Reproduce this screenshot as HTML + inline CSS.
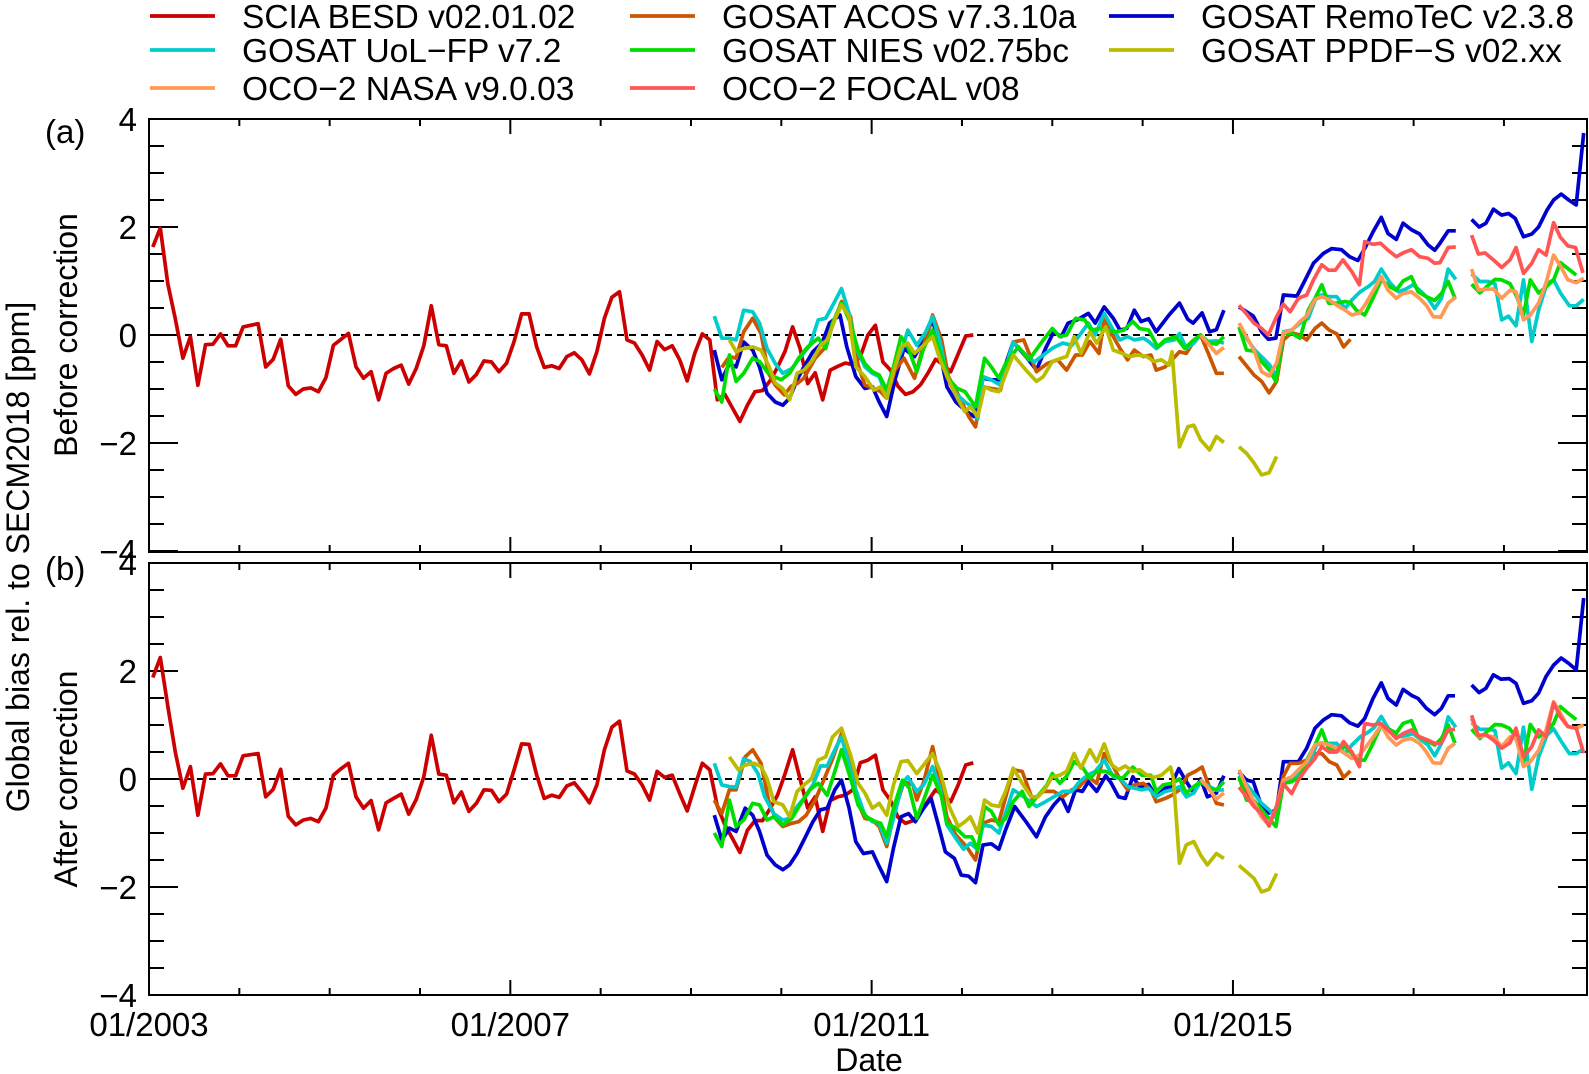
<!DOCTYPE html>
<html><head><meta charset="utf-8">
<style>
html,body{margin:0;padding:0;background:#fff;}
svg{display:block;font-family:"Liberation Sans",Arial,sans-serif;}
</style></head>
<body>
<svg id="chart" width="1589" height="1074" viewBox="0 0 1589 1074" xmlns="http://www.w3.org/2000/svg">
<g id="legend" font-size="33.5" fill="#000"></g>
<g id="axes"></g>
<g id="series"></g>
<text x="45" y="143" font-size="33">(a)</text>
<text x="45" y="580" font-size="33">(b)</text>
<text transform="translate(29,557) rotate(-90)" text-anchor="middle" font-size="32">Global bias rel. to SECM2018 [ppm]</text>
<text transform="translate(77,335) rotate(-90)" text-anchor="middle" font-size="32">Before correction</text>
<text transform="translate(77,779) rotate(-90)" text-anchor="middle" font-size="32">After correction</text>
<text x="869" y="1071" text-anchor="middle" font-size="32">Date</text>
</svg>
<script>
// ---- data (x = months since 01/2003, y = ppm) ----
const xTickLabels=["01/2003","01/2007","01/2011","01/2015"];
const xTickYears=[2003,2007,2011,2015];
const yTickLabels=["−4","−2","0","2","4"];
const yTickValues=[-4,-2,0,2,4];
const legendNames=["SCIA BESD v02.01.02","GOSAT UoL−FP v7.2","OCO−2 NASA v9.0.03","GOSAT ACOS v7.3.10a","GOSAT NIES v02.75bc","OCO−2 FOCAL v08","GOSAT RemoTeC v2.3.8","GOSAT PPDF−S v02.xx"];
const legendColors=["#cc0000","#00cccc","#ff9955","#cc5500","#00dd00","#ff5555","#0000cc","#bbbb00"];

const sciaA=[1.63,1.98,0.95,0.3,-0.43,-0.03,-0.93,-0.18,-0.17,0.02,-0.2,-0.2,0.15,0.18,0.21,-0.59,-0.45,-0.08,-0.94,-1.1,-1.0,-0.98,-1.05,-0.79,-0.19,-0.08,0.03,-0.59,-0.8,-0.68,-1.2,-0.71,-0.62,-0.56,-0.91,-0.62,-0.2,0.54,-0.18,-0.2,-0.71,-0.48,-0.87,-0.73,-0.48,-0.5,-0.68,-0.52,-0.12,0.39,0.39,-0.22,-0.6,-0.57,-0.62,-0.4,-0.33,-0.46,-0.72,-0.31,0.31,0.7,0.8,-0.09,-0.15,-0.37,-0.65,-0.12,-0.27,-0.2,-0.46,-0.85,-0.34,0.02,-0.09,-1.2,-1.1,-1.35,-1.6,-1.3,-1.05,-1.03,-0.85,-0.6,-0.3,0.15,-0.25,-0.9,-0.7,-1.2,-0.65,-0.58,-0.52,-0.55,-0.4,0.0,0.18,-0.5,-0.65,-0.95,-1.1,-1.05,-0.92,-0.7,-0.45,-0.55,-0.68,-0.35,-0.02,0.0];
const sciaB=[1.88,2.25,1.35,0.5,-0.17,0.23,-0.67,0.09,0.1,0.28,0.06,0.06,0.43,0.45,0.47,-0.33,-0.19,0.18,-0.69,-0.85,-0.76,-0.73,-0.79,-0.54,0.07,0.19,0.29,-0.33,-0.54,-0.4,-0.94,-0.44,-0.36,-0.28,-0.65,-0.38,0.04,0.81,0.09,0.07,-0.44,-0.24,-0.6,-0.45,-0.2,-0.21,-0.42,-0.28,0.17,0.65,0.64,0.07,-0.36,-0.3,-0.34,-0.13,-0.07,-0.24,-0.44,-0.11,0.54,0.96,1.07,0.15,0.09,-0.11,-0.39,0.14,0.03,0.07,-0.27,-0.59,-0.14,0.29,0.17,-0.5,-0.85,-1.1,-1.36,-0.95,-0.77,-0.77,-0.55,-0.3,0.1,0.54,0.0,-0.54,-0.33,-0.97,-0.4,-0.33,-0.3,-0.2,0.3,0.35,0.44,-0.2,-0.4,-0.71,-0.82,-0.77,-0.62,-0.4,-0.2,-0.3,-0.42,-0.11,0.26,0.3];

const remotecA=[[74.6,-0.28],[75.6,-0.83],[76.6,-0.53],[77.5,-0.59],[78.5,-0.13],[79.7,-0.28],[80.6,-0.59],[81.6,-1.08],[82.7,-1.24],[83.7,-1.3],[84.6,-1.17],[85.6,-0.83],[86.5,-0.59],[87.7,-0.31],[88.9,-0.15],[89.9,0.22],[91.3,0.37],[92.2,-0.22],[93.4,-0.77],[94.6,-0.99],[95.6,-0.96],[96.5,-1.24],[97.5,-1.51],[98.6,-0.83],[99.8,-0.25],[101.2,-0.4],[102.5,-0.09],[103.6,0.3],[104.6,-0.34],[105.5,-0.96],[106.7,-1.24],[107.9,-1.39],[109.1,-1.51],[110.3,-0.8],[111.4,-0.83],[112.6,-0.83],[114.3,-0.13],[116,-0.4],[117.4,-0.65],[118.6,-0.25],[119.7,0.06],[120.7,-0.03],[121.6,0.22],[122.8,0.28],[124.3,0.4],[125.2,0.22],[126.4,0.52],[127.6,0.31],[128.5,0.09],[129.4,0.12],[130.4,0.46],[131.3,0.25],[132.3,0.3],[133.3,0.06],[135,0.37],[136.4,0.59],[137.5,0.29],[138.2,0.22],[139.4,0.41],[140.4,0.06],[141.3,0.1],[142.3,0.46],null,[144.3,0.52],[146.2,0.35],[147.3,0.06],[148.2,-0.08],[149.2,-0.06],[150.2,0.74],[152,0.72],[153.1,1.02],[154.2,1.33],[155.5,1.51],[156.6,1.6],[157.9,1.58],[159,1.45],[160.1,1.38],[161,1.6],[162.1,1.91],[163.2,2.18],[164.1,1.88],[165.2,1.77],[166.1,2.07],[167.2,1.95],[168.3,1.87],[169.4,1.67],[170.3,1.57],[171,1.7],[172.1,1.93],[173.1,1.93],null,[175.2,2.14],[176.2,2.0],[177.1,2.07],[178.1,2.33],[179.2,2.22],[180.1,2.25],[181,2.16],[182.1,1.82],[183.2,1.87],[184.1,2.0],[185.2,2.31],[186.1,2.5],[187.1,2.61],[188.1,2.5],[189.1,2.41],[190.1,3.74]];
const acosA=[[75.6,-0.6],[76.6,-0.4],[77.5,-0.43],[78.5,0.06],[79.7,0.31],[80.8,0.03],[81.8,-0.71],[82.7,-0.93],[83.9,-1.11],[84.8,-0.95],[85.6,-0.9],[86.5,-0.8],[88,-0.43],[89.4,-0.22],[90.3,0.18],[91.5,0.62],[92.7,0.34],[93.7,-0.56],[94.6,-0.93],[95.8,-0.99],[96.7,-1.05],[97.5,-1.17],[98.6,-0.65],[99.8,-0.43],[101.2,-0.8],[102.4,-0.19],[103.6,0.37],[104.8,-0.09],[105.7,-0.77],[106.9,-1.08],[108.4,-1.51],[109.3,-1.7],[110.3,-0.96],[111.4,-0.99],[112.6,-1.02],[114.3,-0.13],[115.7,-0.09],[117.4,-0.68],[118.8,-0.53],[120.2,-0.46],[121.4,-0.65],[122.6,-0.37],[123.5,-0.37],[124.5,-0.12],[125.7,-0.34],[126.4,0.28],[127.6,-0.03],[128.5,-0.25],[129.5,-0.46],[130.4,-0.28],[131.6,-0.4],[132.6,-0.37],[133.3,-0.65],[134.5,-0.59],[135.4,-0.46],[136.4,-0.31],[137.3,-0.34],[138.3,-0.12],[139.2,0.0],[140.4,-0.4],[141.3,-0.71],[142.3,-0.71],null,[144.3,-0.4],[145.3,-0.57],[146.3,-0.74],[147.3,-0.86],[148.3,-1.07],[149.3,-0.86],[150.2,-0.09],[151.3,0.04],[152.4,0.0],[153.3,-0.09],[154.4,0.12],[155.3,0.22],[156.3,0.09],[157.3,0.02],[158.2,-0.22],[159.1,-0.08]];
const uolA=[[74.6,0.35],[75.6,-0.06],[76.6,-0.06],[77.5,-0.09],[78.5,0.46],[79.7,0.43],[80.6,0.22],[81.6,-0.25],[82.7,-0.53],[83.7,-0.71],[84.9,-0.62],[86.1,-0.4],[87.3,-0.19],[88.4,0.28],[89.4,0.31],[90.6,0.62],[91.5,0.86],[92.5,0.4],[93.4,-0.22],[94.6,-0.59],[95.6,-0.71],[96.5,-0.77],[97.5,-1.14],[98.4,-0.65],[99.6,-0.25],[100.3,0.09],[101.5,-0.19],[102.7,0.06],[103.6,0.34],[104.6,-0.13],[105.5,-0.77],[106.7,-1.08],[107.9,-1.24],[108.8,-1.33],[109.6,-1.55],[110.3,-0.77],[111.4,-0.83],[112.6,-0.93],[114.3,-0.13],[116,-0.37],[117.1,-0.5],[118.6,-0.34],[119.7,-0.23],[120.9,-0.15],[122.1,-0.19],[123.3,0.03],[124.3,0.22],[125.2,0.0],[126.4,0.4],[127.6,0.09],[128.5,-0.09],[129.5,-0.03],[130.4,-0.09],[131.6,-0.06],[132.3,-0.12],[133.3,-0.25],[134.5,-0.12],[135.7,-0.09],[136.4,0.03],[137.3,-0.25],[138.3,-0.15],[139.2,0.0],[140.1,-0.12],[141.3,-0.11],[142.3,-0.15],null,[144.3,0.15],[145.3,-0.06],[146.4,-0.28],[147.5,-0.43],[148.4,-0.56],[149.3,-0.77],[150.2,0.06],[151.3,0.09],[152.4,0.22],[153.5,0.31],[154.6,0.71],[155.3,0.74],[156.3,0.71],[157.3,0.71],[158.4,0.49],[159.3,0.65],[160.4,0.8],[161.5,0.9],[162.3,0.99],[163.2,1.22],[164.4,0.96],[165.5,0.8],[166.6,0.86],[167.4,0.93],[168.3,0.83],[169.4,0.68],[170.3,0.49],[171.2,0.68],[172.1,1.22],[173.1,1.03],null,[175.2,1.13],[176.3,0.99],[177.4,0.99],[178.3,0.95],[179.2,0.28],[180.1,0.35],[181.1,0.17],[182.1,1.02],[183.2,-0.12],[184.1,0.46],[185.2,0.95],[186.1,1.02],[187,0.78],[188.2,0.54],[189.1,0.54],[190.1,0.66]];
const niesA=[[74.6,-1.0],[75.6,-1.24],[76.6,-0.37],[77.5,-0.86],[78.5,-0.71],[79.7,-0.43],[80.6,-0.49],[81.6,-0.68],[82.5,-0.77],[83.5,-0.83],[84.6,-0.71],[85.8,-0.43],[87,-0.22],[88.4,-0.06],[89.4,-0.25],[90.3,0.22],[91.5,0.59],[92.7,0.22],[93.7,-0.28],[94.6,-0.53],[95.6,-0.68],[96.5,-0.74],[97.5,-1.02],[98.4,-0.59],[99.4,-0.03],[100.3,-0.22],[101.5,-0.68],[102.4,-0.25],[103.6,0.09],[104.8,-0.4],[105.8,-0.83],[106.9,-0.99],[107.9,-1.05],[109.3,-1.33],[110.5,-0.43],[111.4,-0.59],[112.4,-0.8],[113.3,-0.53],[115,-0.22],[116.4,-0.46],[118.1,-0.13],[119.5,0.12],[120.5,-0.03],[121.4,0.0],[122.6,0.31],[123.8,0.28],[124.7,0.09],[125.9,0.12],[126.8,0.09],[128,0.06],[129,0.09],[130.2,0.25],[131.1,0.12],[132.3,0.09],[133.5,-0.22],[134.5,-0.09],[135.9,-0.03],[137.1,-0.25],[138.3,-0.09],[139.2,0.0],[140.4,-0.15],[141.3,-0.17],[142.3,-0.03],null,[144.3,0.15],[145.3,-0.28],[146.3,-0.3],[147.3,-0.49],[148.4,-0.66],[149.2,-0.86],[150.2,0.04],[151.3,0.03],[152.4,-0.06],[153.5,0.46],[154.4,0.68],[155.3,0.93],[156.2,0.59],[157.3,0.59],[158.4,0.62],[159.1,0.6],[159.9,0.46],[161,0.37],[162.1,0.68],[163.2,1.02],[164.4,0.89],[165.2,0.83],[166.1,1.0],[167.2,1.08],[168.1,0.8],[169.2,0.71],[170.3,0.64],[171.2,0.77],[172.1,0.99],[173,0.68],null,[175.2,0.94],[176.3,0.78],[177.2,0.89],[178.3,1.03],[179.2,1.02],[180.3,0.95],[181.2,0.71],[182.1,0.37],[183,1.02],[184.1,0.78],[185.1,0.89],[186.1,1.02],[187,1.34],[188,1.23],[189.1,1.11]];
const ppdfA=[[76.6,-0.09],[77.5,-0.31],[78.5,-0.25],[79.7,-0.22],[80.8,-0.28],[81.8,-0.56],[82.7,-0.89],[83.7,-0.99],[84.6,-1.2],[85.6,-0.71],[86.5,-0.65],[87.7,-0.46],[88.7,-0.19],[89.6,-0.09],[90.6,0.28],[91.5,0.56],[92.5,0.34],[93.4,-0.59],[94.6,-0.77],[95.8,-1.02],[96.7,-0.96],[97.5,-1.17],[98.4,-0.68],[99.4,-0.22],[100.3,-0.15],[101.2,-0.34],[102.4,-0.19],[103.6,-0.03],[104.6,-0.46],[105.8,-0.86],[107,-1.2],[107.9,-1.42],[108.6,-1.33],[109.6,-1.51],[110.5,-0.96],[111.4,-1.02],[112.4,-1.05],[114.3,-0.37],[116,-0.65],[117.4,-0.86],[118.3,-0.77],[119.5,-0.49],[120.7,-0.43],[121.4,-0.4],[122.4,-0.03],[123.3,-0.34],[124.5,0.06],[125.4,-0.15],[126.6,0.15],[127.6,-0.28],[128.8,-0.34],[129.7,-0.4],[130.9,-0.37],[132.1,-0.4],[133,-0.49],[134,-0.46],[135,-0.56],[135.4,-0.31],[136.4,-2.07],[137.5,-1.7],[138.3,-1.67],[139.2,-1.94],[140.4,-2.13],[141.3,-1.88],[142.3,-1.99],null,[144.3,-2.07],[145.3,-2.19],[146.3,-2.37],[147.3,-2.59],[148.3,-2.55],[149.3,-2.25]];
const nasaA=[[139.2,0.0],[140.4,-0.19],[141.3,-0.34],[142.3,-0.23],null,[144.3,0.22],[145.3,-0.03],[146.3,-0.28],[147.3,-0.68],[148.3,-0.76],[149.3,-0.52],[150.2,0.04],[151.3,0.09],[152.4,0.25],[153.3,0.35],[154.4,0.66],[155.3,0.71],[156.3,0.65],[157.3,0.55],[158.4,0.46],[159.3,0.37],[160.3,0.41],[161.2,0.59],[162.3,0.86],[163.2,1.08],[164.1,0.83],[165.2,0.68],[166.1,0.77],[167.2,0.8],[168.3,0.68],[169.2,0.55],[170.1,0.34],[171.1,0.33],[172.1,0.59],[173.1,0.7],null,[175.2,1.22],[176.1,0.83],[177.1,0.85],[178.1,0.85],[179.2,0.68],[180.3,0.83],[181.1,0.8],[182.1,0.28],[183,0.37],[184.1,0.59],[185.1,0.97],[186.1,1.48],[187,1.28],[188,1.02],[189.1,0.97],[190.1,1.05]];
const focalA=[[144.3,0.55],[145.3,0.39],[146.3,0.22],[147.3,0.12],[148.2,0.0],[149.3,0.34],[150.2,0.57],[151.1,0.43],[152.2,0.68],[153.3,0.74],[154.2,1.02],[155.3,1.3],[156.2,1.2],[157.1,1.2],[158.1,1.39],[159.3,1.17],[160.3,0.93],[161,1.73],[162.1,1.68],[163.1,1.7],[164.1,1.57],[165.2,1.45],[166.1,1.52],[167.2,1.58],[168.3,1.45],[169.4,1.42],[170.3,1.33],[171,1.34],[172.1,1.62],[173.1,1.63],null,[175.2,1.85],[176.1,1.5],[177,1.52],[178.1,1.39],[179.2,1.25],[180.3,1.39],[181.1,1.62],[182.1,1.14],[183.2,1.33],[184.1,1.58],[185.1,1.48],[186.1,2.08],[187,1.81],[188,1.65],[189,1.62],[190,1.15]];

const remotecB=[[74.6,-0.67],[75.6,-1.13],[76.6,-0.91],[77.5,-0.97],[78.7,-0.54],[79.7,-0.67],[80.6,-0.97],[81.6,-1.41],[82.7,-1.59],[83.7,-1.68],[84.6,-1.59],[85.6,-1.38],[86.5,-1.13],[87.7,-0.79],[88.7,-0.57],[89.6,-0.54],[90.6,-0.2],[91.5,-0.02],[92.5,-0.54],[93.4,-1.16],[94.4,-1.38],[95.6,-1.35],[96.5,-1.62],[97.5,-1.9],[98.4,-1.28],[99.4,-0.7],[100.4,-0.64],[101.3,-0.79],[102.4,-0.54],[103.4,-0.36],[104.3,-0.82],[105.3,-1.35],[106.5,-1.47],[107.4,-1.78],[108.4,-1.8],[109.3,-1.92],[110.3,-1.22],[111.4,-1.2],[112.4,-1.3],[113.3,-0.94],[114.5,-0.51],[116,-0.79],[117.4,-1.07],[118.6,-0.7],[119.7,-0.48],[120.7,-0.33],[121.6,-0.6],[122.6,-0.2],[123.5,-0.23],[124.3,-0.05],[125.4,-0.23],[126.6,0.06],[127.3,-0.07],[128.3,-0.33],[129.2,-0.36],[130.2,0.04],[131.1,-0.14],[132.3,-0.1],[133.3,-0.33],[134.5,-0.17],[135.2,-0.14],[136.3,0.19],[137.3,-0.05],[138.3,-0.26],[139.2,0.0],[140.1,-0.33],[141.3,-0.26],[142.3,0.06],null,[144.3,0.13],[145.3,-0.02],[146.2,-0.05],[147.3,-0.51],[148.3,-0.63],[149.3,-0.57],[150.2,0.32],[151.1,0.32],[152.2,0.32],[153.3,0.57],[154.4,0.94],[155.5,1.09],[156.6,1.19],[157.9,1.17],[159,1.04],[160.1,0.98],[161,1.12],[162.1,1.49],[163.2,1.78],[164.1,1.49],[165.2,1.37],[166.1,1.66],[167.2,1.55],[168.1,1.49],[169.2,1.31],[170.3,1.19],[171.2,1.31],[172.1,1.54],[173,1.54],null,[175.2,1.74],[176.2,1.6],[177.1,1.68],[178.1,1.93],[179.1,1.85],[180.2,1.86],[181.1,1.77],[182.1,1.4],[183.2,1.45],[184.1,1.59],[185.1,1.9],[186.1,2.11],[187.1,2.24],[188.1,2.14],[189.1,2.02],[190.1,3.35]];
const acosB=[[74.6,-0.39],[75.6,-0.64],[76.6,-0.2],[77.5,-0.2],[78.7,0.41],[79.7,0.54],[80.8,0.29],[81.8,-0.39],[82.7,-0.73],[83.7,-0.88],[84.9,-0.82],[85.8,-0.79],[86.8,-0.67],[88,-0.39],[89.2,0.0],[90.3,0.37],[91.5,0.84],[92.7,0.29],[93.7,-0.45],[94.6,-0.73],[95.6,-0.76],[96.5,-0.88],[97.5,-1.25],[98.6,-0.57],[99.8,-0.05],[101,-0.11],[101.5,-0.39],[102.4,-0.06],[103.6,0.6],[104.6,-0.05],[105.5,-0.7],[106.7,-1.04],[108.1,-1.25],[109.3,-1.5],[110.3,-0.82],[111.4,-0.76],[112.4,-0.79],[114.3,0.17],[115.5,0.14],[116.9,-0.39],[118.3,-0.23],[119.7,-0.23],[120.9,-0.33],[122.1,-0.2],[123.1,-0.14],[124.3,0.04],[125.4,-0.08],[126.4,0.47],[127.6,0.23],[128.5,0.0],[129.5,-0.2],[130.4,-0.11],[131.6,-0.08],[132.6,-0.2],[133.3,-0.42],[134.5,-0.36],[135.4,-0.3],[136.4,-0.2],[137.5,0.07],[138.5,0.14],[139.4,0.22],[140.1,-0.05],[141.3,-0.45],[142.3,-0.48],null,[144.3,0.0],[145.3,-0.2],[146.3,-0.45],[147.3,-0.7],[148.3,-0.85],[149.3,-0.5],[150.2,0.05],[151.1,0.29],[152.2,0.29],[153.3,0.35],[154.4,0.47],[155.3,0.47],[156.3,0.32],[157.3,0.26],[158.2,0.03],[159.1,0.15]];
const uolB=[[74.6,0.29],[75.6,-0.11],[76.6,-0.14],[77.5,-0.15],[78.5,0.38],[79.4,0.32],[80.4,0.1],[81.3,-0.33],[82.5,-0.64],[83.7,-0.76],[84.6,-0.73],[85.6,-0.51],[86.5,-0.36],[87.7,-0.11],[88.7,0.24],[89.6,0.24],[90.6,0.54],[91.5,0.78],[92.5,0.26],[93.4,-0.2],[94.6,-0.67],[95.6,-0.79],[96.5,-0.82],[97.5,-1.19],[98.4,-0.73],[99.6,-0.08],[100.3,0.04],[101.5,-0.23],[102.4,-0.11],[103.6,0.23],[104.6,-0.17],[105.5,-0.85],[106.7,-1.1],[107.7,-1.3],[108.6,-1.19],[109.6,-1.31],[110.3,-0.85],[111.4,-0.88],[112.4,-1.0],[114.3,-0.2],[115.7,-0.33],[117.4,-0.51],[118.6,-0.42],[119.7,-0.33],[120.9,-0.23],[122.1,-0.23],[123.1,-0.05],[124.3,0.08],[125.2,0.14],[126.4,0.35],[127.6,0.04],[128.5,0.01],[129.5,-0.14],[130.4,-0.17],[131.4,-0.2],[132.3,-0.17],[133.3,-0.33],[134.5,-0.23],[135.7,-0.19],[136.4,-0.14],[137.3,-0.33],[138.3,-0.26],[139.2,-0.05],[140.4,-0.14],[141.3,-0.21],[142.3,-0.2],null,[144.3,0.07],[145.3,-0.1],[146.3,-0.27],[147.3,-0.45],[148.3,-0.57],[149.3,-0.73],[150.2,-0.08],[151.3,-0.02],[152.4,0.1],[153.5,0.26],[154.6,0.63],[155.3,0.66],[156.3,0.66],[157.3,0.66],[158.4,0.47],[159.3,0.63],[160.4,0.78],[161.5,0.87],[162.3,0.96],[163.2,1.16],[164.4,0.87],[165.5,0.78],[166.6,0.81],[167.4,0.84],[168.3,0.75],[169.4,0.63],[170.3,0.43],[171.2,0.66],[172.1,1.15],[173.1,0.96],null,[175.2,1.04],[176.3,0.92],[177.4,0.92],[178.3,0.9],[179.2,0.2],[180.1,0.3],[181.1,0.1],[182.1,0.96],[183.2,-0.19],[184.1,0.41],[185.2,0.81],[186.1,0.93],[187,0.72],[188.2,0.47],[189.1,0.47],[190.1,0.56]];
const niesB=[[74.6,-1.0],[75.6,-1.25],[76.6,-0.39],[77.5,-0.88],[78.5,-0.76],[79.7,-0.45],[80.6,-0.48],[81.6,-0.76],[82.5,-0.7],[83.7,-0.85],[84.9,-0.73],[86.1,-0.45],[87.3,-0.2],[88.4,-0.08],[89.6,-0.3],[90.6,0.14],[91.5,0.54],[92.7,0.01],[93.7,-0.48],[94.8,-0.7],[96,-0.79],[96.7,-0.82],[97.5,-1.07],[98.4,-0.54],[99.6,-0.02],[100.5,-0.17],[101.5,-0.73],[102.4,-0.39],[103.6,0.07],[104.8,-0.33],[105.5,-0.82],[106.7,-0.91],[107.9,-1.07],[108.8,-1.07],[109.6,-1.31],[110.5,-0.51],[111.4,-0.6],[112.4,-0.85],[113.3,-0.73],[114.3,-0.42],[115.5,-0.23],[116.4,-0.51],[117.9,-0.26],[118.8,-0.11],[119.5,0.1],[120.5,-0.08],[121.4,0.05],[122.4,0.32],[123.5,0.22],[124.5,0.01],[125.4,0.14],[126.6,0.14],[127.6,0.07],[128.8,0.01],[130.2,0.22],[131.4,0.07],[132.6,0.07],[133.3,-0.23],[134.2,-0.11],[135.4,-0.08],[136.4,0.0],[137.3,-0.26],[138.3,-0.14],[139.2,-0.05],[140.4,-0.17],[141.3,-0.2],[142.3,-0.05],null,[144.3,0.04],[145.3,-0.39],[146.3,-0.4],[147.3,-0.57],[148.3,-0.73],[149.2,-0.88],[150.2,-0.08],[151.3,-0.05],[152.4,0.04],[153.5,0.41],[154.4,0.63],[155.3,0.91],[156.2,0.57],[157.3,0.55],[158.4,0.6],[159.3,0.47],[160.1,0.35],[161,0.35],[162.1,0.66],[163.2,1.0],[164.4,0.91],[165.2,0.85],[166.1,1.03],[167.2,1.08],[168.1,0.78],[169.2,0.72],[170.3,0.63],[171.2,0.75],[172.1,1.0],[173,0.66],null,[175.2,0.92],[176.3,0.75],[177.2,0.87],[178.3,1.01],[179.2,1.0],[180.2,0.94],[181.1,0.78],[182.1,0.29],[183,1.01],[184.1,0.78],[185.1,0.87],[186.1,1.03],[187,1.34],[188,1.22],[189.1,1.1]];
const ppdfB=[[76.6,0.41],[77.8,0.17],[78.7,0.26],[79.9,0.29],[80.8,0.23],[81.6,0.01],[82.5,-0.42],[83.7,-0.48],[84.6,-0.7],[85.6,-0.23],[86.5,-0.11],[87.5,0.0],[88.4,0.35],[89.4,0.41],[90.3,0.78],[91.5,0.94],[92.7,0.44],[93.7,-0.08],[94.6,-0.26],[95.6,-0.54],[96.5,-0.45],[97.5,-0.67],[98.4,-0.11],[99.4,0.32],[100.3,0.34],[101.5,0.1],[102.4,0.26],[103.6,0.47],[104.6,0.14],[105.8,-0.51],[107,-0.88],[107.9,-0.79],[108.6,-0.7],[109.6,-1.0],[110.5,-0.39],[111.4,-0.48],[112.4,-0.51],[113.3,-0.23],[114.3,0.2],[115.5,-0.08],[116.7,-0.33],[117.6,-0.33],[118.6,-0.17],[119.5,0.04],[120.5,0.07],[121.4,0.14],[122.4,0.47],[123.3,0.2],[124.5,0.54],[125.4,0.32],[126.4,0.65],[127.4,0.26],[128.3,0.17],[129.2,0.24],[130.2,0.14],[131.1,0.17],[132.1,0.07],[133,0.03],[134,0.07],[135.2,0.22],[135.6,0.0],[136.4,-1.56],[137.3,-1.22],[138.3,-1.16],[139.2,-1.41],[140.1,-1.59],[141.3,-1.38],[142.3,-1.47],null,[144.3,-1.6],[145.3,-1.72],[146.3,-1.84],[147.3,-2.09],[148.3,-2.04],[149.3,-1.75]];
const nasaB=[[139.2,0.0],[140.4,-0.2],[141.3,-0.37],[142.3,-0.26],null,[144.3,0.17],[145.3,-0.14],[146.3,-0.42],[147.3,-0.71],[148.3,-0.83],[149.3,-0.51],[150.2,-0.02],[151.3,0.04],[152.4,0.2],[153.3,0.32],[154.4,0.63],[155.3,0.67],[156.3,0.63],[157.3,0.57],[158.4,0.47],[159.3,0.38],[160.3,0.44],[161.2,0.6],[162.3,0.81],[163.2,1.0],[164.1,0.78],[165.2,0.63],[166.1,0.72],[167.2,0.75],[168.3,0.66],[169.2,0.5],[170.1,0.3],[171.1,0.29],[172.1,0.57],[173,0.66],null,[175.2,1.12],[176.1,0.78],[177.1,0.81],[178.1,0.78],[179.2,0.6],[180.3,0.78],[181.1,0.75],[182.1,0.23],[183,0.32],[184.1,0.53],[185.1,0.91],[186.1,1.43],[187,1.22],[188,0.97],[189.1,0.94],[190.1,1.0]];
const focalB=[[144.3,-0.15],[145.3,-0.33],[146.3,-0.51],[147.3,-0.64],[148.3,-0.87],[149.3,-0.51],[150.2,-0.09],[151.3,-0.27],[152.2,-0.02],[153.3,0.2],[154.4,0.38],[155.3,0.6],[156.3,0.5],[157.3,0.5],[158.2,0.69],[159.3,0.5],[160.3,0.23],[161,1.03],[162.1,1.0],[163.1,1.03],[164.1,0.91],[165.2,0.75],[166.1,0.84],[167.2,0.91],[168.3,0.78],[169.4,0.72],[170.3,0.66],[171.2,0.67],[172.1,0.91],[173,0.92],null,[175.2,1.18],[176.1,0.8],[177,0.83],[178.1,0.72],[179.2,0.57],[180.3,0.67],[181.1,0.94],[182.1,0.41],[183.2,0.6],[184.1,0.91],[185.1,0.78],[186.1,1.41],[187,1.15],[188,0.97],[189.1,0.94],[190.1,0.48]];

// ---- geometry ----
const X0=149, X1=1587, PX_PER_YEAR=90.33;
const panels=[{name:"a",top:119,bottom:552,zero:335},{name:"b",top:563,bottom:995,zero:779}];
const PX_PER_PPM=54;
function xScale(m){return X0+(m+0.5)*PX_PER_YEAR/12;}
function xYear(y){return X0+(y-2003)*PX_PER_YEAR;}
function yScale(p,v){return p.zero-v*PX_PER_PPM;}
const NS="http://www.w3.org/2000/svg";
function el(tag,attrs,parent){const e=document.createElementNS(NS,tag);for(const k in attrs)e.setAttribute(k,attrs[k]);parent.appendChild(e);return e;}

const axes=document.getElementById('axes');
panels.forEach(p=>{
  const fr=el('rect',{x:X0,y:p.top,width:X1-X0,height:p.bottom-p.top,fill:'none',stroke:'#000','stroke-width':2},axes);
  
  
  for(let v=-4;v<=4.001;v+=0.5){
    const y=yScale(p,v);const major=Math.abs(v%2)<0.01;const L=major?29:15;
    el('line',{x1:X0,x2:X0+L,y1:y,y2:y,stroke:'#000','stroke-width':2},axes);
    el('line',{x1:X1-L,x2:X1,y1:y,y2:y,stroke:'#000','stroke-width':2},axes);
  }
  yTickValues.forEach((v,i)=>{
    const t=el('text',{x:137,y:yScale(p,v)+12,'text-anchor':'end','font-size':33},axes);
    t.textContent=yTickLabels[i];
    
    
  });
  for(let yr=2004;yr<=2018;yr++){
    const x=xYear(yr);const L=(yr-2003)%4===0?15:7;
    el('line',{x1:x,x2:x,y1:p.top,y2:p.top+L,stroke:'#000','stroke-width':2},axes);
    el('line',{x1:x,x2:x,y1:p.bottom-L,y2:p.bottom,stroke:'#000','stroke-width':2},axes);
  }
  const z=el('line',{x1:X0,x2:X1,y1:p.zero,y2:p.zero,stroke:'#000','stroke-width':2,'stroke-dasharray':'7,5'},axes);
  
  
});
xTickYears.forEach((yr,i)=>{
  const t=el('text',{x:xYear(yr),y:1036,'text-anchor':'middle','font-size':33},axes);
  t.textContent=xTickLabels[i];
  
  
});

// ---- series ----
const ser=document.getElementById('series');
function drawPairs(p,pairs,color,name){
  let segs=[],cur=[];
  pairs.forEach(d=>{if(d===null){if(cur.length)segs.push(cur);cur=[];}else cur.push(xScale(d[0]).toFixed(1)+','+yScale(p,d[1]).toFixed(1));});
  if(cur.length)segs.push(cur);
  segs.forEach(s=>{
    const pl=el('polyline',{points:s.join(' '),fill:'none',stroke:color,'stroke-width':3.7,'stroke-linejoin':'round'},ser);
    
    
  });
}
function drawMonthly(p,vals,color,name){
  drawPairs(p,vals.map((v,i)=>[i,v]),color,name);
}
const [pa,pb]=panels;
drawMonthly(pa,sciaA,legendColors[0],'scia-besd');
drawMonthly(pb,sciaB,legendColors[0],'scia-besd');
drawPairs(pa,remotecA,legendColors[6],'gosat-remotec');
drawPairs(pb,remotecB,legendColors[6],'gosat-remotec');
drawPairs(pa,acosA,legendColors[3],'gosat-acos');
drawPairs(pb,acosB,legendColors[3],'gosat-acos');
drawPairs(pa,uolA,legendColors[1],'gosat-uol');
drawPairs(pb,uolB,legendColors[1],'gosat-uol');
drawPairs(pa,niesA,legendColors[4],'gosat-nies');
drawPairs(pb,niesB,legendColors[4],'gosat-nies');
drawPairs(pa,ppdfA,legendColors[7],'gosat-ppdf');
drawPairs(pb,ppdfB,legendColors[7],'gosat-ppdf');
drawPairs(pa,nasaA,legendColors[2],'oco2-nasa');
drawPairs(pb,nasaB,legendColors[2],'oco2-nasa');
drawPairs(pa,focalA,legendColors[5],'oco2-focal');
drawPairs(pb,focalB,legendColors[5],'oco2-focal');

// ---- legend ----
const lg=document.getElementById('legend');
const colX=[150,630,1109], rowY=[16,50,88];
legendNames.forEach((n,i)=>{
  const c=Math.floor(i/3), r=i%3;
  const g=el('g',{},lg);
  
  
  el('line',{x1:colX[c],x2:colX[c]+65,y1:rowY[r],y2:rowY[r],stroke:legendColors[i],'stroke-width':3.7},g);
  const t=el('text',{x:colX[c]+92,y:rowY[r]+12},g);
  t.textContent=n;
});
</script>
</body></html>
